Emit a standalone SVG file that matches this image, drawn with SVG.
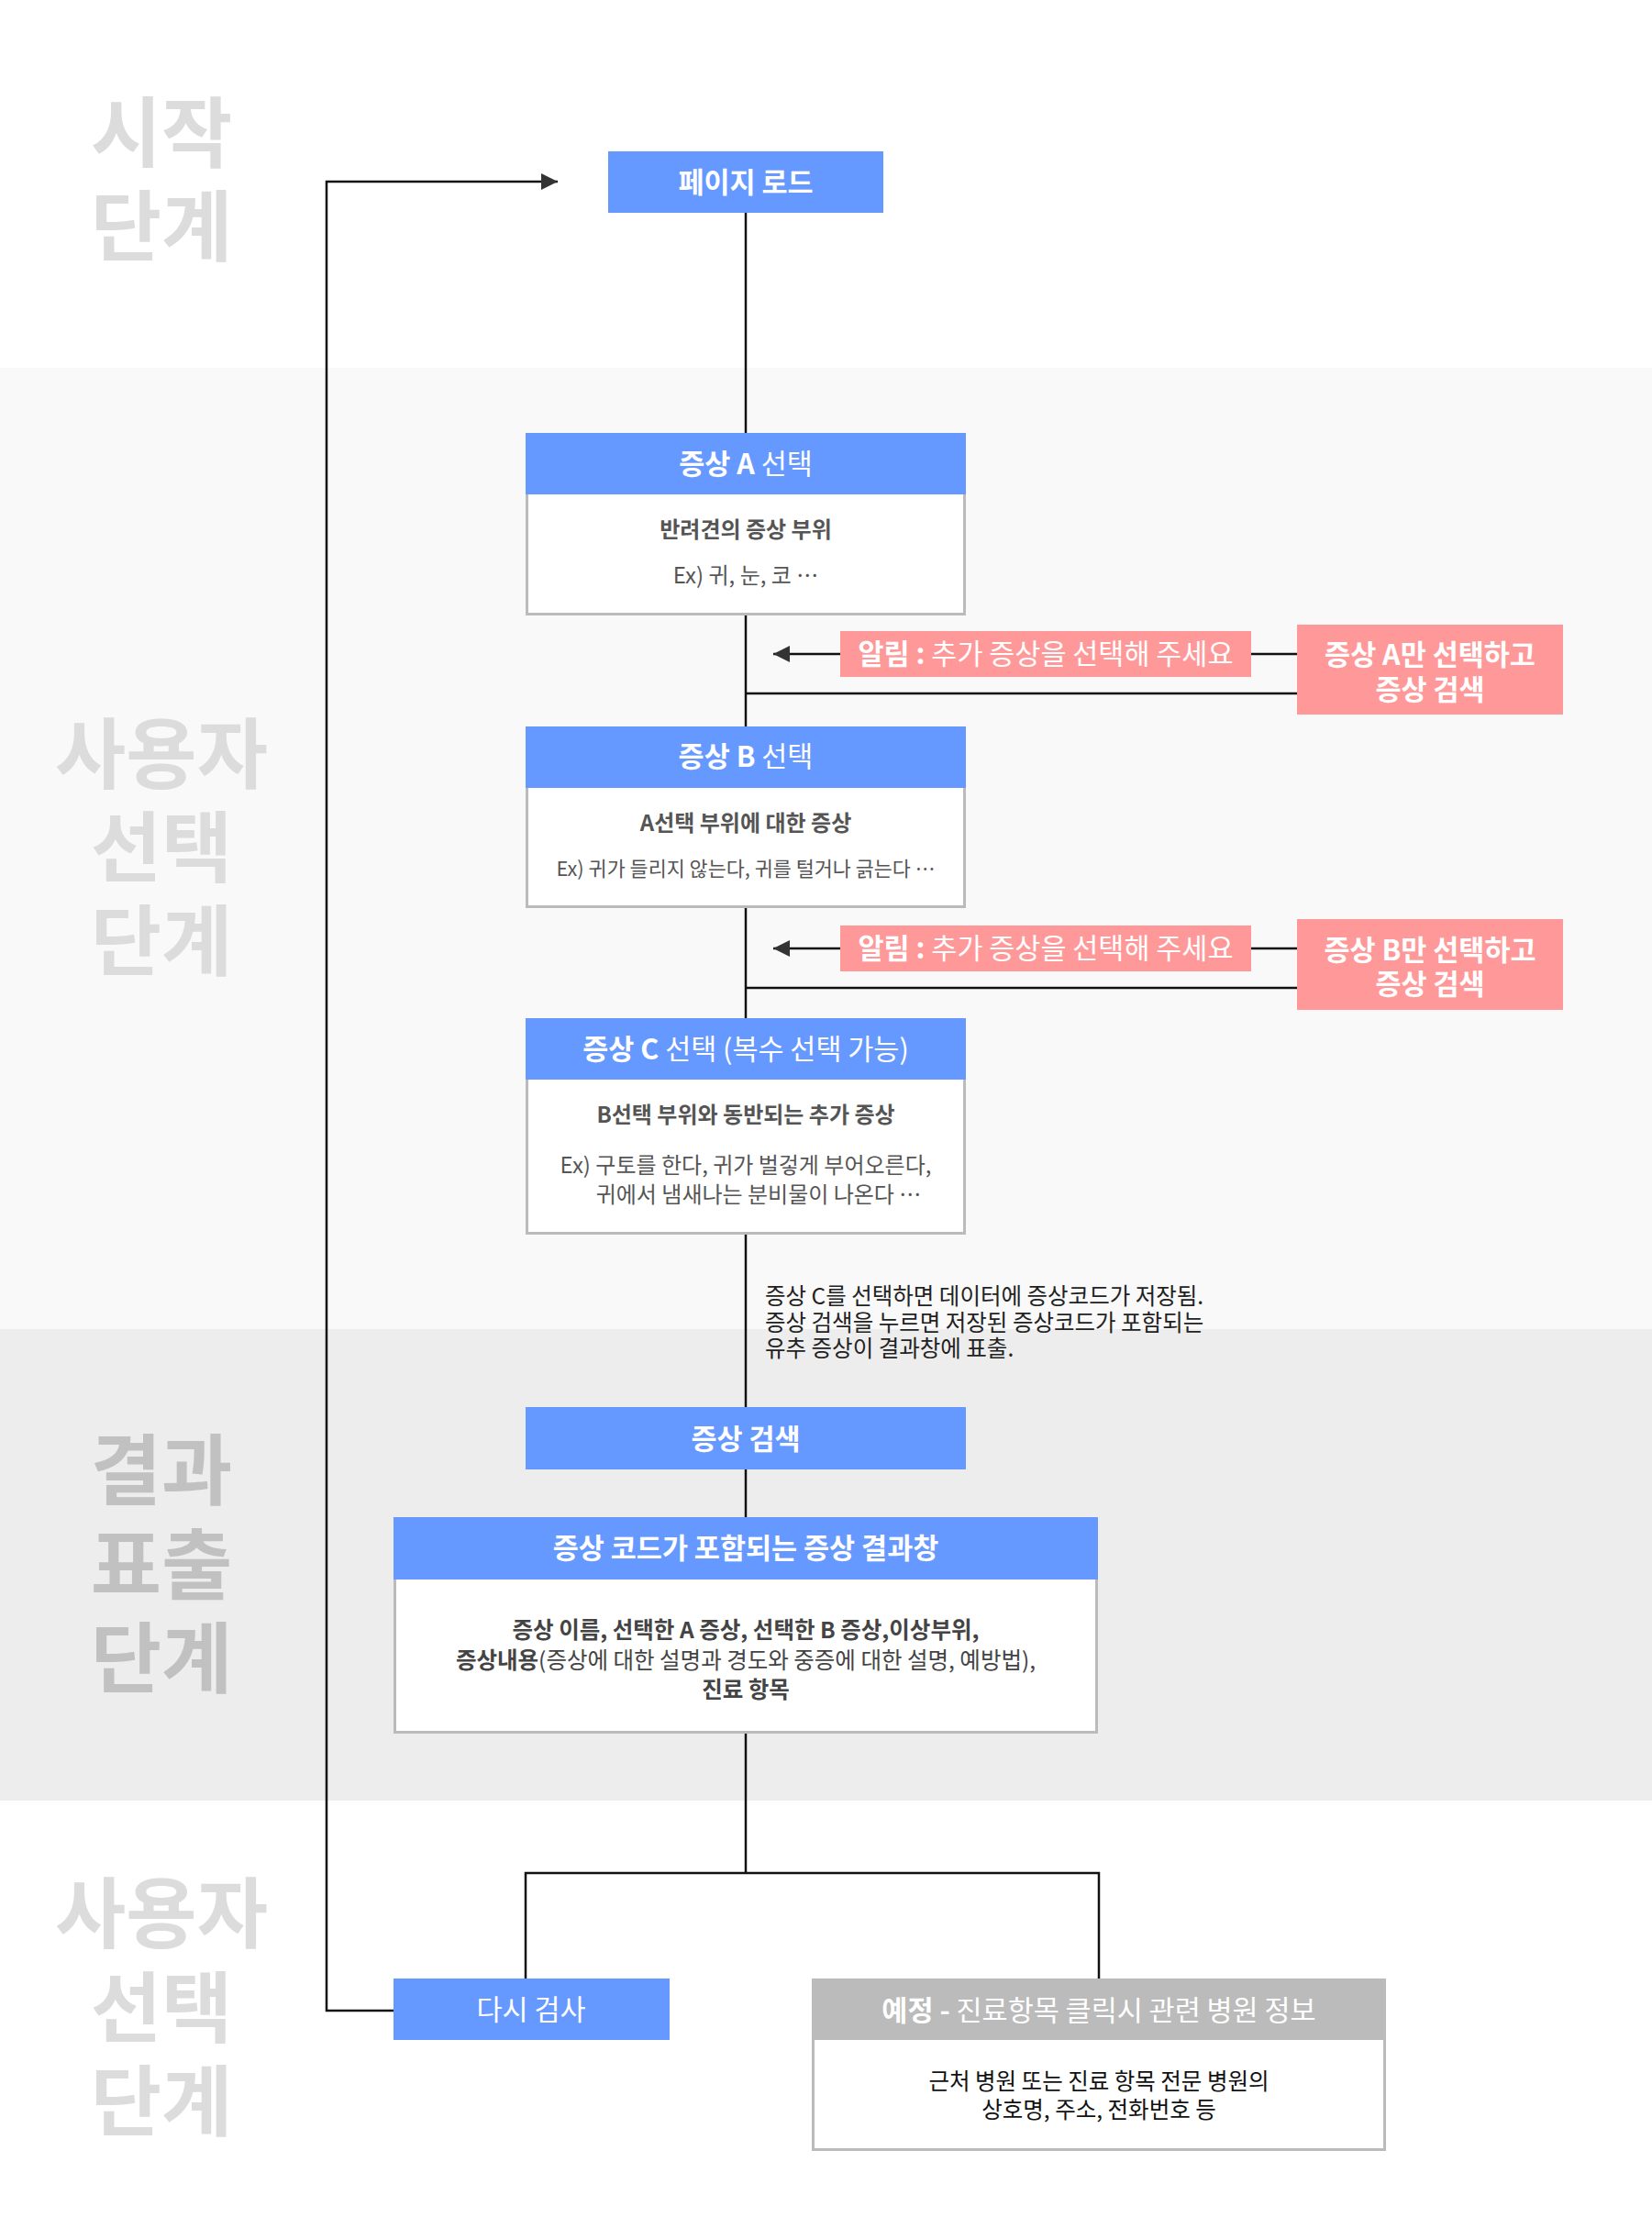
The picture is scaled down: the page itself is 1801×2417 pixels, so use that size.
<svg xmlns="http://www.w3.org/2000/svg" width="1801" height="2417" viewBox="0 0 1801 2417">
<defs>
<style>
text{font-family:"Noto Sans CJK KR","Noto Sans",sans-serif;}
.stage{font-size:84px;font-weight:700;fill:#dcdcdc;text-anchor:middle;}
.stage2{font-size:84px;font-weight:700;fill:#c1c1c1;text-anchor:middle;}
.hd{font-size:30.5px;fill:#ffffff;text-anchor:middle;}
.b{font-weight:700;}
.r{font-weight:400;}
.sub{font-size:24px;font-weight:700;fill:#555555;text-anchor:middle;}
.ex{font-size:24px;font-weight:400;fill:#555555;text-anchor:middle;}
.ex-s{font-size:21.8px;}
.res{font-size:24.5px;fill:#444444;text-anchor:middle;}
.note{font-size:24.5px;fill:#222222;}
.info{font-size:24.5px;fill:#111111;text-anchor:middle;}
.blue{fill:#6699ff;}
.pink{fill:#ff9999;}
.grey{fill:#bbbbbb;}
.body{fill:#ffffff;stroke:#bbbbbb;stroke-width:3;}
.ln{fill:none;stroke:#111111;stroke-width:2.5;}
</style>
<marker id="arr" viewBox="0 0 18 18" refX="18" refY="9" markerWidth="18" markerHeight="18" markerUnits="userSpaceOnUse" orient="auto">
<path d="M0,0 L18,9 L0,18 Z" fill="#333333"/>
</marker>
</defs>

<g id="bands">
<rect x="0" y="0" width="1801" height="401" fill="#ffffff"/>
<rect x="0" y="401" width="1801" height="1048" fill="#f9f9f9"/>
<rect x="0" y="1449" width="1801" height="514" fill="#ededed"/>
<rect x="0" y="1963" width="1801" height="454" fill="#ffffff"/>
</g>

<g id="stage-labels">
<text class="stage" x="176" y="176">시작</text>
<text class="stage" x="176" y="278">단계</text>
<text class="stage" x="176" y="853">사용자</text>
<text class="stage" x="176" y="955">선택</text>
<text class="stage" x="176" y="1057">단계</text>
<text class="stage2" x="176" y="1634">결과</text>
<text class="stage2" x="176" y="1737">표출</text>
<text class="stage2" x="176" y="1839">단계</text>
<text class="stage" x="176" y="2117">사용자</text>
<text class="stage" x="176" y="2220">선택</text>
<text class="stage" x="176" y="2322">단계</text>
</g>

<g id="connectors">
<path class="ln" d="M813,232 V472"/>
<path class="ln" d="M813,671 V792"/>
<path class="ln" d="M813,990 V1110"/>
<path class="ln" d="M813,1346 V1534"/>
<path class="ln" d="M813,1602 V1654"/>
<path class="ln" d="M813,1890 V2042"/>
<path class="ln" d="M573,2157 V2042 H1198 V2157"/>
<path class="ln" d="M429,2192 H356 V198 H608" marker-end="url(#arr)"/>
<path class="ln" d="M1414,713 H843" marker-end="url(#arr)"/>
<path class="ln" d="M1414,756 H813"/>
<path class="ln" d="M1414,1034 H843" marker-end="url(#arr)"/>
<path class="ln" d="M1414,1077 H813"/>
</g>

<g id="node-page-load">
<rect class="blue" x="663" y="165" width="300" height="67"/>
<text class="hd b" x="813" y="210">페이지 로드</text>
</g>

<g id="node-symptom-a">
<rect class="body" x="574.5" y="473.5" width="477" height="196"/>
<rect class="blue" x="573" y="472" width="480" height="67"/>
<text class="hd" x="813" y="517"><tspan class="b">증상 A</tspan><tspan class="r"> 선택</tspan></text>
<text class="sub" x="813" y="586">반려견의 증상 부위</text>
<text class="ex" x="813" y="636">Ex) 귀, 눈, 코 ⋯</text>
</g>

<g id="node-alert-a">
<rect class="pink" x="916" y="688" width="448" height="50"/>
<text class="hd" x="1140" y="724"><tspan class="b">알림 :</tspan><tspan class="r"> 추가 증상을 선택해 주세요</tspan></text>
</g>

<g id="node-search-a-only">
<rect class="pink" x="1414" y="681" width="290" height="98"/>
<text class="hd b" x="1559" y="725">증상 A만 선택하고</text>
<text class="hd b" x="1559" y="763">증상 검색</text>
</g>

<g id="node-symptom-b">
<rect class="body" x="574.5" y="793.5" width="477" height="195"/>
<rect class="blue" x="573" y="792" width="480" height="67"/>
<text class="hd" x="813" y="836"><tspan class="b">증상 B</tspan><tspan class="r"> 선택</tspan></text>
<text class="sub" x="813" y="906">A선택 부위에 대한 증상</text>
<text class="ex ex-s" x="813" y="955">Ex) 귀가 들리지 않는다, 귀를 털거나 긁는다 ⋯</text>
</g>

<g id="node-alert-b">
<rect class="pink" x="916" y="1009" width="448" height="50"/>
<text class="hd" x="1140" y="1045"><tspan class="b">알림 :</tspan><tspan class="r"> 추가 증상을 선택해 주세요</tspan></text>
</g>

<g id="node-search-b-only">
<rect class="pink" x="1414" y="1002" width="290" height="99"/>
<text class="hd b" x="1559" y="1047">증상 B만 선택하고</text>
<text class="hd b" x="1559" y="1084">증상 검색</text>
</g>

<g id="node-symptom-c">
<rect class="body" x="574.5" y="1111.5" width="477" height="233"/>
<rect class="blue" x="573" y="1110" width="480" height="67"/>
<text class="hd" x="813" y="1155"><tspan class="b">증상 C</tspan><tspan class="r"> 선택 (복수 선택 가능)</tspan></text>
<text class="sub" x="813" y="1224">B선택 부위와 동반되는 추가 증상</text>
<text class="ex" x="813" y="1279">Ex) 구토를 한다, 귀가 벌겋게 부어오른다,</text>
<text class="ex" x="827" y="1311">귀에서 냄새나는 분비물이 나온다 ⋯</text>
</g>

<g id="note">
<text class="note" x="834" y="1422">증상 C를 선택하면 데이터에 증상코드가 저장됨.</text>
<text class="note" x="834" y="1451">증상 검색을 누르면 저장된 증상코드가 포함되는</text>
<text class="note" x="834" y="1479">유추 증상이 결과창에 표출.</text>
</g>

<g id="node-search">
<rect class="blue" x="573" y="1534" width="480" height="68"/>
<text class="hd b" x="813" y="1580">증상 검색</text>
</g>

<g id="node-result">
<rect class="body" x="430.5" y="1655.5" width="765" height="233"/>
<rect class="blue" x="429" y="1654" width="768" height="68"/>
<text class="hd b" x="813" y="1699">증상 코드가 포함되는 증상 결과창</text>
<text class="res b" x="813" y="1786">증상 이름, 선택한 A 증상, 선택한 B 증상,이상부위,</text>
<text class="res" x="813" y="1819"><tspan class="b">증상내용</tspan><tspan class="r">(증상에 대한 설명과 경도와 중증에 대한 설명, 예방법),</tspan></text>
<text class="res b" x="813" y="1851">진료 항목</text>
</g>

<g id="node-retry">
<rect class="blue" x="429" y="2157" width="301" height="67"/>
<text class="hd r" x="579" y="2202">다시 검사</text>
</g>

<g id="node-hospital">
<rect class="body" x="886.5" y="2158.5" width="623" height="185"/>
<rect class="grey" x="885" y="2157" width="626" height="67"/>
<text class="hd" x="1198" y="2203"><tspan class="b">예정 -</tspan><tspan class="r"> 진료항목 클릭시 관련 병원 정보</tspan></text>
<text class="info" x="1198" y="2278">근처 병원 또는 진료 항목 전문 병원의</text>
<text class="info" x="1198" y="2309">상호명, 주소, 전화번호 등</text>
</g>
</svg>
